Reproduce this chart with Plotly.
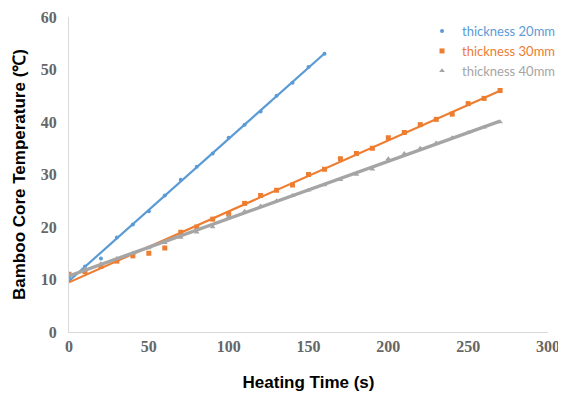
import numpy as np
import plotly.graph_objects as go

time_20 = [0, 10, 20, 30, 40, 50, 60, 70, 80, 90, 100, 110, 120, 130, 140, 150, 160]
temp_20 = [10.5, 12.5, 14, 18, 20.5, 23, 26, 29, 31.5, 34, 37, 39.5, 42, 45, 47.5, 50.5, 53]

time_30 = list(range(0, 280, 10))
temp_30 = [11, 11.5, 12.5, 13.5, 14.5, 15, 16, 19, 20, 21.5, 22.5, 24.5, 26, 27, 28, 30, 31, 33,
           34, 35, 37, 38, 39.5, 40.5, 41.5, 43.5, 44.5, 46]

time_40 = list(range(0, 280, 10))
temp_40 = [11, 12, 13, 14, 15, 16, 17, 18, 19, 20, 22, 23, 24, 25, 26, 27, 28, 29, 30, 31,
           33, 34, 35, 36, 37, 38, 39, 40]

names = ["thickness 20mm", "thickness 30mm", "thickness 40mm"]
colors = ["#5B9BD5", "#ED7D31", "#A5A5A5"]
symbols = ["circle", "square", "triangle-up"]
msizes = [4, 5, 5]
lwidths = [2.2, 2.2, 3.4]

x_ticks = [0, 50, 100, 150, 200, 250, 300]
y_ticks = [0, 10, 20, 30, 40, 50, 60]

fig = go.Figure()
series = [(time_20, temp_20), (time_30, temp_30), (time_40, temp_40)]
for (xs, ys), name, c, s, ms, lw in zip(series, names, colors, symbols, msizes, lwidths):
    xs = np.array(xs, dtype=float)
    ys = np.array(ys, dtype=float)
    k, b = np.polyfit(xs, ys, 1)
    xf = np.array([xs.min(), xs.max()])
    fig.add_trace(go.Scatter(x=xf, y=k * xf + b, mode="lines",
                             line=dict(color=c, width=lw), showlegend=False, hoverinfo="skip"))
    fig.add_trace(go.Scatter(x=xs, y=ys, mode="markers",
                             marker=dict(color=c, symbol=s, size=ms),
                             name=f"<span style='color:{c}'>{name}</span>"))

tickfont = dict(family="Liberation Serif", size=16, color="#666666", weight="bold")
titlefont = dict(family="Liberation Sans", size=17, color="#000000")

fig.update_layout(
    width=566, height=394,
    margin=dict(l=61, r=26, t=9, b=70, autoexpand=False),
    paper_bgcolor="white", plot_bgcolor="white",
    legend=dict(x=0.737, y=1.003, xanchor="left", yanchor="top",
                font=dict(family="Lato", size=13), tracegroupgap=0,
                bgcolor="rgba(0,0,0,0)"),
    xaxis=dict(range=[0, 300], tickvals=x_ticks, ticktext=[str(v) for v in x_ticks],
               showgrid=False, zeroline=False, showline=True, linecolor="#D9D9D9", linewidth=1,
               ticks="", tickfont=tickfont, automargin=False, ticklabelstandoff=0,
               title=dict(text="<b>Heating Time (s)</b>", font=titlefont, standoff=21)),
    yaxis=dict(range=[0, 60], tickvals=y_ticks, ticktext=[str(v) for v in y_ticks],
               showgrid=False, zeroline=False, showline=True, linecolor="#D9D9D9", linewidth=1,
               ticks="", tickfont=tickfont, automargin=False, ticklabelstandoff=8,
               title=dict(text="<b>Bamboo Core Temperature (℃)</b>", font=titlefont, standoff=10)),
)
fig.write_html("out.html")
